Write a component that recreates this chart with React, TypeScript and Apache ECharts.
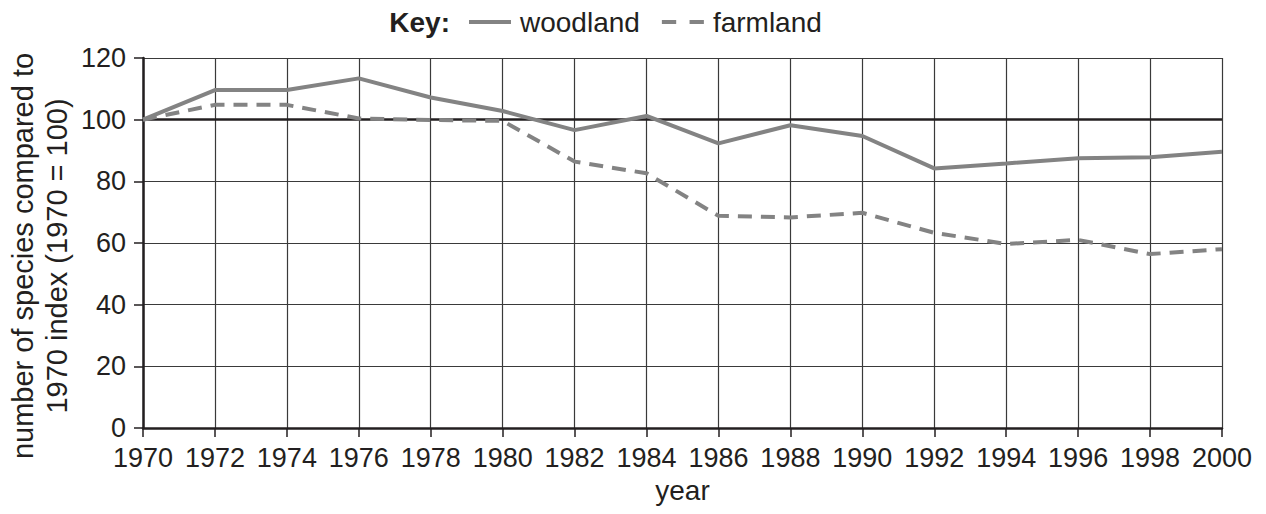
import React, { useEffect, useRef } from "react";
import * as echarts from "echarts";

const years = [1970, 1972, 1974, 1976, 1978, 1980, 1982, 1984, 1986, 1988, 1990, 1992, 1994, 1996, 1998, 2000];
const woodland = [100, 109.6, 109.6, 113.4, 107.2, 102.8, 96.6, 101.2, 92.3, 98.2, 94.7, 84.2, 85.8, 87.5, 87.8, 89.6];
const farmland = [100, 104.8, 104.8, 100.4, 99.9, 99.6, 86.4, 82.6, 68.8, 68.3, 69.8, 63.3, 59.7, 61.0, 56.4, 58.0];
const seriesNames = ["woodland", "farmland"];
const keyLabel = "Key:";
const yAxisTitle = "number of species compared to\n1970 index (1970 = 100)";
const xAxisTitle = "year";

const FONT = "'Liberation Sans', Arial, Helvetica, sans-serif";
const INK = "#231f20";
const LINE = "#838383";

const SOLID_ICON = "path://M0,0H42V4H0Z";
const DASH_ICON = "path://M0,0H15V4H0ZM29,0H44V4H29Z";

export default function App() {
  const ref = useRef<HTMLDivElement>(null);
  useEffect(() => {
    if (!ref.current) return;
    const chart = echarts.init(ref.current, undefined, { renderer: "svg" });
    const zip = (vals: number[]) => years.map((y, i) => [y, vals[i]]);
    chart.setOption({
      animation: false,
      backgroundColor: "#ffffff",
      textStyle: { fontFamily: FONT, color: INK },
      grid: { left: 143, right: 44, top: 58, bottom: 86, containLabel: false },
      legend: {
        left: 464,
        top: 3,
        itemWidth: 42,
        itemHeight: 4,
        itemGap: 22,
        textStyle: { fontFamily: FONT, fontSize: 28, color: INK, padding: [0, 0, 0, 4] },
        data: [
          { name: seriesNames[0], icon: SOLID_ICON, itemStyle: { color: LINE } },
          { name: seriesNames[1], icon: DASH_ICON, itemStyle: { color: LINE } },
        ],
      },
      graphic: [
        {
          type: "text",
          x: 450,
          y: 22,
          style: {
            text: keyLabel,
            font: `bold 28px ${FONT}`,
            fill: INK,
            align: "right",
            verticalAlign: "middle",
          },
        },
        {
          type: "text",
          x: 40,
          y: 256,
          rotation: Math.PI / 2,
          style: {
            text: yAxisTitle,
            font: `29px ${FONT}`,
            lineHeight: 34,
            fill: INK,
            align: "center",
            verticalAlign: "middle",
          },
        },
      ],
      xAxis: {
        type: "value",
        min: 1970,
        max: 2000,
        interval: 2,
        name: xAxisTitle,
        nameLocation: "middle",
        nameGap: 48,
        nameTextStyle: { fontFamily: FONT, fontSize: 28, color: INK },
        axisLine: { show: true, onZero: false, lineStyle: { color: INK, width: 2.5 } },
        axisTick: { show: true, inside: false, length: 9, lineStyle: { color: INK, width: 1.5 } },
        axisLabel: {
          fontFamily: FONT,
          fontSize: 27,
          color: INK,
          margin: 16,
          formatter: (v: number) => String(v),
        },
        splitLine: { show: true, lineStyle: { color: "#3a3a3a", width: 1.2 } },
      },
      yAxis: {
        type: "value",
        min: 0,
        max: 120,
        interval: 20,
        axisLine: { show: true, lineStyle: { color: INK, width: 2.5 } },
        axisTick: { show: true, inside: false, length: 9, lineStyle: { color: INK, width: 1.5 } },
        axisLabel: { fontFamily: FONT, fontSize: 27, color: INK, margin: 17 },
        splitLine: { show: true, lineStyle: { color: "#3a3a3a", width: 1.2 } },
      },
      series: [
        {
          name: seriesNames[0],
          type: "line",
          data: zip(woodland),
          symbol: "none",
          z: 3,
          lineStyle: { color: LINE, width: 4, type: "solid" },
          itemStyle: { color: LINE },
          markLine: {
            silent: true,
            symbol: "none",
            label: { show: false },
            lineStyle: { color: INK, width: 2.5, type: "solid" },
            data: [{ yAxis: 100 }],
            z: 2,
          },
        },
        {
          name: seriesNames[1],
          type: "line",
          data: zip(farmland),
          symbol: "none",
          z: 3,
          lineStyle: { color: LINE, width: 4, type: [14, 9] },
          itemStyle: { color: LINE },
        },
      ],
    });
    return () => chart.dispose();
  }, []);
  return (
    <div
      ref={ref}
      style={{ position: "absolute", left: 0, top: 0, width: 1266, height: 514 }}
    />
  );
}
